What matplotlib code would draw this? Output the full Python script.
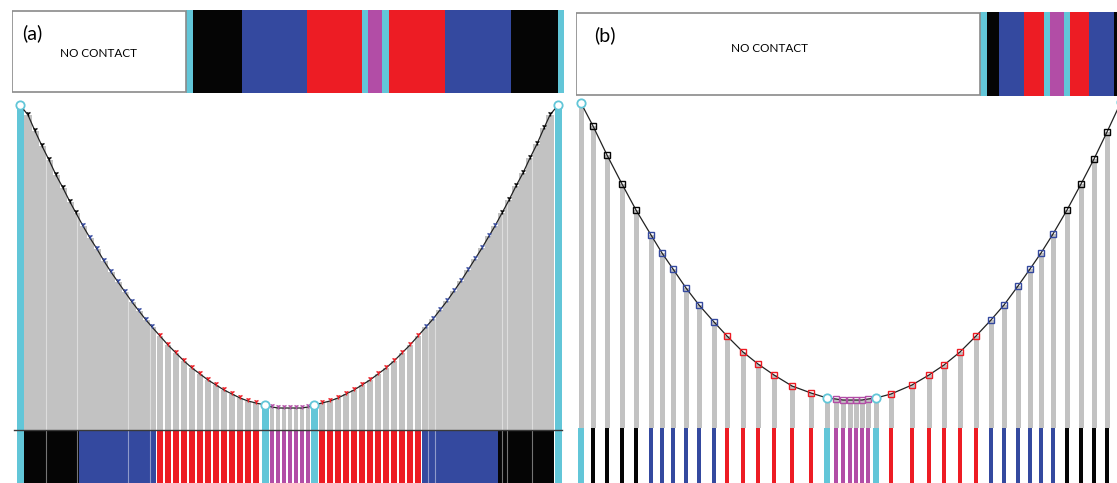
import matplotlib.pyplot as plt
from matplotlib.patches import Rectangle

W, H = 1117, 483

COLORS = {"w": "#ffffff", "k": "#050505", "b": "#34499f", "r": "#ed1c24",
          "m": "#b24da6", "c": "#62c6d8"}
GRAY = "#c2c2c2"

# --- top strips: contact state along the span ---
a_strip_states = ["w", "c", "k", "b", "r", "c", "m", "c", "r", "b", "k", "c"]
a_strip_edges = [12, 186, 193, 242, 307, 362, 368, 382, 389, 445, 511, 558, 564]
b_strip_states = ["w", "c", "k", "b", "r", "c", "m", "c", "r", "b", "k"]
b_strip_edges = [576, 980, 987, 999, 1024, 1044, 1050, 1064, 1070, 1089, 1114, 1125]

# --- panel (a): dense mesh ---
a_x = [20,
       28, 35, 42, 49, 56, 63, 70, 76,
       83, 90, 97, 104, 111, 118, 125, 132, 139, 146, 152,
       160, 168, 176, 184, 192, 200, 208, 216, 224, 232, 240, 248, 256,
       265,
       272, 278, 284, 290, 296, 302, 308,
       314,
       322, 330, 338, 346, 354, 362, 370, 378, 386, 394, 402, 410, 418,
       426, 433, 440, 447, 454, 461, 468, 475, 482, 489, 495,
       502, 509, 516, 523, 530, 537, 544, 550,
       558]
a_h = [325,
       315, 299, 284, 270, 255, 242, 228, 217,
       204, 192, 181, 169, 158, 148, 138, 128, 119, 110, 103,
       94, 85, 77, 69, 62, 56, 50, 45, 40, 36, 32, 29, 27,
       25,
       23, 22, 22, 22, 22, 22, 23,
       25,
       27, 29, 32, 36, 40, 45, 50, 56, 62, 69, 77, 85, 94,
       103, 111, 120, 129, 139, 149, 160, 171, 182, 194, 204,
       217, 230, 244, 257, 272, 286, 302, 315,
       325]
a_state = list("c" + "k" * 8 + "b" * 11 + "r" * 13 + "c" + "m" * 7 + "c"
               + "r" * 13 + "b" * 11 + "k" * 8 + "c")
# faint seams seen inside the solid black / blue blocks of panel (a)
a_seams = [46, 77, 128, 150, 428, 435, 502, 507, 532]

# --- panel (b): coarse mesh ---
b_x = [581,
       593, 607, 622, 636,
       651, 662, 673, 686, 699, 714,
       727, 743, 758, 774, 792, 811,
       827,
       836, 843, 850, 856, 862, 868,
       876,
       891, 912, 929, 944, 960, 976,
       991, 1004, 1018, 1030, 1041, 1053,
       1067, 1081, 1094, 1107,
       1121]
b_h = [325,
       302, 273, 244, 218,
       193, 175, 159, 140, 123, 106,
       92, 76, 64, 53, 42, 35,
       30,
       29, 28, 28, 28, 28, 29,
       30,
       34, 43, 53, 63, 76, 92,
       108, 123, 142, 159, 175, 194,
       218, 244, 269, 296,
       326]
b_state = list("c" + "k" * 4 + "b" * 6 + "r" * 6 + "c" + "m" * 6 + "c"
               + "r" * 6 + "b" * 6 + "k" * 4 + "c")

a_width = {"k": 7.4, "b": 7.4, "r": 5.5, "m": 4.0, "c": 7.0}
b_width = {"k": 4.5, "b": 4.5, "r": 4.5, "m": 3.2, "c": 6.5}

fig = plt.figure(figsize=(W / 100, H / 100), dpi=100)
plt.rcParams["font.family"] = ["Lato", "DejaVu Sans"]


def px_axes(x0, y0, x1, y1):
    ax = fig.add_axes([x0 / W, 1 - y1 / H, (x1 - x0) / W, (y1 - y0) / H])
    ax.set_axis_off()
    return ax


def strip(box, edges, states, label, label_x, text_pos):
    ax = px_axes(*box)
    ax.set_xlim(box[0], box[2])
    ax.set_ylim(0, 1)
    lefts = edges[:-1]
    widths = [e1 - e0 for e0, e1 in zip(edges[:-1], edges[1:])]
    ax.bar(lefts, 1, width=widths, align="edge", color=[COLORS[s] for s in states],
           linewidth=0)
    ax.add_patch(Rectangle((edges[0], 0.01), edges[1] - edges[0], 0.98,
                           fill=False, edgecolor="#8a8a8a", lw=1.2))
    ax.text(label_x, 0.72, label, transform=ax.transAxes, fontsize=14, va="center")
    ax.text(text_pos[0], text_pos[1], "NO CONTACT", transform=ax.transAxes,
            fontsize=8.5, va="center", ha="center")


strip((12, 10, 566, 93), a_strip_edges, a_strip_states, "(a)", 0.018, (0.157, 0.48))
strip((576, 12, 1117, 96), b_strip_edges, b_strip_states, "(b)", 0.033, (0.358, 0.57))

# --- panel (a) main ---
ax = px_axes(10, 95, 566, 483)
ax.set_xlim(10, 566)
ax.set_ylim(-53, 335)
for x, h, s in zip(a_x, a_h, a_state):
    w = a_width[s]
    if s == "c":
        ax.bar(x, h + 53, bottom=-53, width=w, color=COLORS["c"], linewidth=0)
    else:
        ax.bar(x, h, width=w, color=GRAY, linewidth=0)
        ax.bar(x, 53, bottom=-53, width=w, color=COLORS[s], linewidth=0)
ax.vlines(a_seams, -53, 330, color="white", lw=0.8, alpha=0.45, zorder=2)
ax.plot([14, 562], [0, 0], color="#3a3a3a", lw=1, zorder=3)
ax.plot(a_x, a_h, color="#222222", lw=0.9, zorder=3)
for s in "kbrm":
    xs = [x for x, st in zip(a_x, a_state) if st == s]
    hs = [h + 2 for h, st in zip(a_h, a_state) if st == s]
    ax.plot(xs, hs, ls="none", marker="1", ms=4, mew=1.0, color=COLORS[s], zorder=4)
cx = [x for x, st in zip(a_x, a_state) if st == "c"]
ch = [h for h, st in zip(a_h, a_state) if st == "c"]
ax.plot(cx, ch, ls="none", marker="o", ms=6, mfc="white", mec=COLORS["c"], mew=1.3,
        zorder=5, clip_on=False)

# --- panel (b) main ---
ax = px_axes(566, 95, 1117, 483)
ax.set_xlim(566, 1117)
ax.set_ylim(-55, 333)
ax.bar(b_x, b_h, width=5, color=GRAY, linewidth=0)
ax.bar(b_x, 55, bottom=-55, width=[b_width[s] for s in b_state],
       color=[COLORS[s] for s in b_state], linewidth=0)
ax.plot(b_x, b_h, color="#222222", lw=0.9, zorder=3)
for s in "kbrm":
    xs = [x for x, st in zip(b_x, b_state) if st == s]
    hs = [h for h, st in zip(b_h, b_state) if st == s]
    ax.plot(xs, hs, ls="none", marker="s", ms=3.8, mfc="none", mew=1.0,
            mec=COLORS[s], zorder=4)
cx = [x for x, st in zip(b_x, b_state) if st == "c"]
ch = [h for h, st in zip(b_h, b_state) if st == "c"]
ax.plot(cx, ch, ls="none", marker="o", ms=6, mfc="white", mec=COLORS["c"], mew=1.3,
        zorder=5)

fig.savefig("out.png", dpi=100)
